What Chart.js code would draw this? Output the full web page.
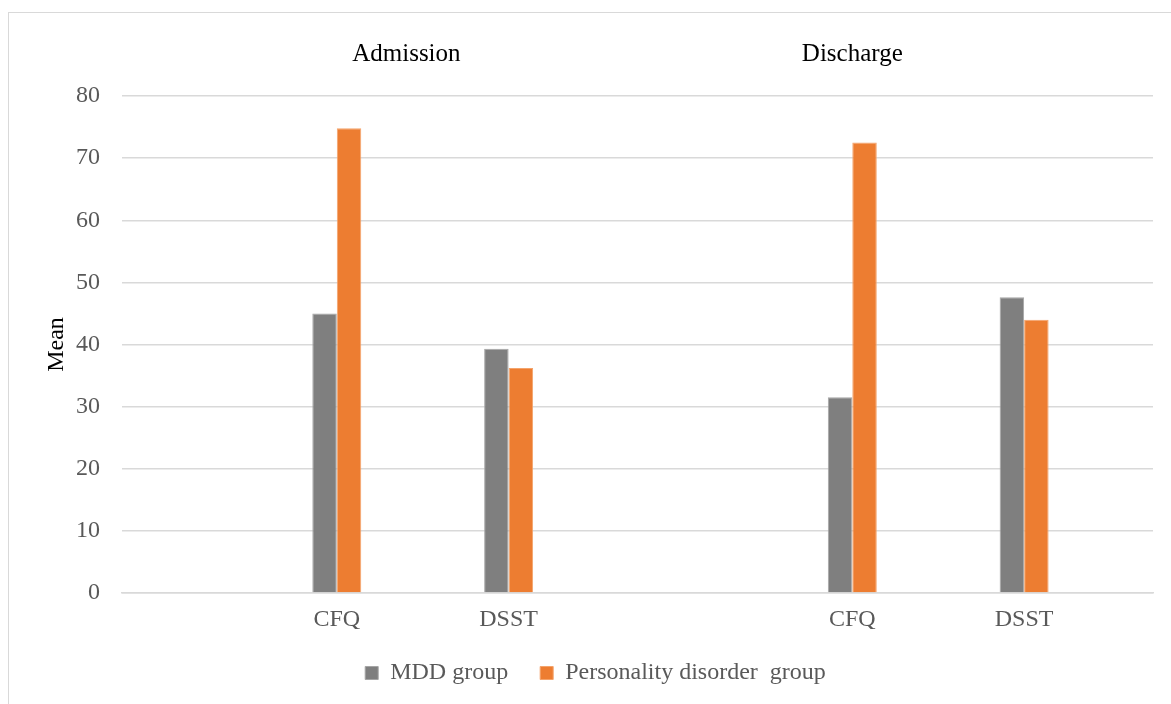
<!DOCTYPE html>
<html>
<head>
<meta charset="utf-8">
<script src="https://cdn.jsdelivr.net/npm/chart.js@4.4.1/dist/chart.umd.min.js"></script>
<style>
  html, body { margin: 0; padding: 0; background: #fff; overflow: hidden; }
  #frame { position: absolute; left: 8px; top: 12px; width: 1200px; height: 720px;
           border: 1.5px solid #d9d9d9; box-sizing: border-box; }
  #wrap { position: absolute; left: 0; top: 0; width: 1171px; height: 704px; }
</style>
</head>
<body>
<div id="frame"></div>
<div id="wrap"><canvas id="c"></canvas></div>
<script>
// Category slots (blank slots keep the spacing of the original chart)
const categories = ['', '', 'CFQ', '', 'DSST', '', '', '', 'CFQ', '', 'DSST', ''];
const mddGroup = [null, null, 45.0, null, 39.3, null, null, null, 31.5, null, 47.6, null];
const personalityGroup = [null, null, 74.8, null, 36.2, null, null, null, 72.5, null, 44.0, null];
const seriesNames = ['MDD group', 'Personality disorder  group'];
const groupLabels = ['Admission', 'Discharge'];
const groupLabelSlots = [2.81, 8.0];
const yTicks = [0, 10, 20, 30, 40, 50, 60, 70, 80];

const FONT = "'Liberation Serif', 'Times New Roman', serif";

const groupLabelPlugin = {
  id: 'groupLabels',
  afterDraw(chart) {
    const ctx = chart.ctx;
    const xs = chart.scales.x;
    const top = chart.chartArea.top;
    ctx.save();
    ctx.font = '25px ' + FONT;
    ctx.fillStyle = '#000000';
    ctx.textAlign = 'center';
    ctx.textBaseline = 'middle';
    groupLabels.forEach((t, i) => {
      ctx.fillText(t, xs.getPixelForValue(groupLabelSlots[i]), top - 42);
    });
    ctx.restore();
  }
};

new Chart(document.getElementById('c'), {
  type: 'bar',
  data: {
    labels: categories,
    datasets: [
      { label: seriesNames[0], data: mddGroup, backgroundColor: '#7f7f7f',
        borderColor: '#a5a5a5', borderWidth: 1 },
      { label: seriesNames[1], data: personalityGroup, backgroundColor: '#ed7d31',
        borderColor: '#f4a36b', borderWidth: 1 }
    ]
  },
  plugins: [groupLabelPlugin],
  options: {
    responsive: true,
    maintainAspectRatio: false,
    animation: false,
    layout: { padding: { top: 96, right: 18, bottom: 9, left: 38 } },
    datasets: { bar: { categoryPercentage: 0.57, barPercentage: 1.0 } },
    plugins: {
      legend: {
        position: 'bottom',
        labels: {
          font: { family: FONT, size: 24 },
          color: '#595959',
          boxWidth: 13, boxHeight: 13,
          padding: 32
        }
      },
      tooltip: { enabled: false }
    },
    scales: {
      x: {
        grid: { display: false, drawTicks: false },
        border: { display: true, color: '#d9d9d9', width: 1.5 },
        ticks: { font: { family: FONT, size: 24 }, color: '#595959', padding: 12,
                 autoSkip: false, maxRotation: 0 },
        afterFit(scale) { scale.height = 36; }
      },
      y: {
        min: 0, max: 80,
        afterBuildTicks(axis) { axis.ticks = yTicks.map(v => ({ value: v })); },
        grid: { color: '#d9d9d9', lineWidth: 1.5, drawTicks: false },
        border: { display: false },
        ticks: { font: { family: FONT, size: 24 }, color: '#595959', padding: 22 },
        title: { display: true, text: 'Mean', font: { family: FONT, size: 24 },
                 color: '#000000', padding: { top: 4.6, bottom: -17.4 } }
      }
    }
  }
});
</script>
</body>
</html>
